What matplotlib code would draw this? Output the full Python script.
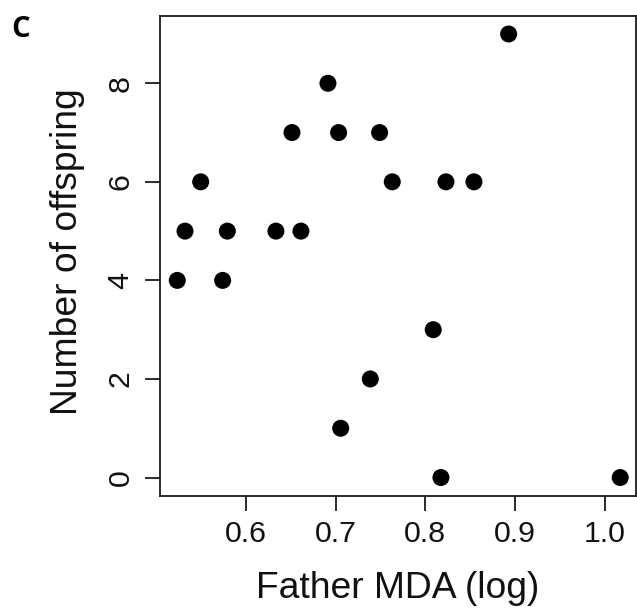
import matplotlib
matplotlib.use("Agg")
import matplotlib.pyplot as plt

# Data
father_mda_log = [0.8929, 0.6914, 0.6513, 0.7033, 0.7490, 0.5495, 0.7631, 0.8230,
                  0.8542, 0.5320, 0.5792, 0.6334, 0.6613, 0.5234, 0.5740, 0.8088,
                  0.7386, 0.7056, 0.8174, 1.0173]
n_offspring = [9, 8, 7, 7, 7, 6, 6, 6, 6, 5, 5, 5, 5, 4, 4, 3, 2, 1, 0, 0]
x_ticks = [0.6, 0.7, 0.8, 0.9, 1.0]
x_tick_labels = ["0.6", "0.7", "0.8", "0.9", "1.0"]
y_ticks = [0, 2, 4, 6, 8]
y_tick_labels = ["0", "2", "4", "6", "8"]

plt.rcParams['font.family'] = ['Liberation Sans', 'DejaVu Sans']

W, H = 637, 608
fig = plt.figure(figsize=(W / 100, H / 100), dpi=100)
left, right, top, bottom = 159.7, 636.0, 16.0, 496.0
ax = fig.add_axes([left / W, 1 - bottom / H, (right - left) / W, (bottom - top) / H])

ax.scatter(father_mda_log, n_offspring, s=150, c='black', edgecolors='none', zorder=3)

ax.set_xlim(0.5038, 1.0349)
ax.set_ylim(-0.375, 9.365)
ax.set_xticks(x_ticks)
ax.set_xticklabels(x_tick_labels)
ax.set_yticks(y_ticks)
ax.set_yticklabels(y_tick_labels, rotation=90, va='center')

for sp in ax.spines.values():
    sp.set_linewidth(1.3)
    sp.set_color('#1a1a1a')
ax.tick_params(axis='both', direction='out', length=11, width=1.3, color='#1a1a1a',
               labelsize=21.8, labelcolor='#111111')
ax.tick_params(axis='x', pad=6)
ax.tick_params(axis='y', pad=7)

fig.text(398 / W, 1 - 598 / H, 'Father MDA (log)', fontsize=26.8, color='#111111',
         ha='center', va='baseline')
fig.text(77 / W, 1 - 252 / H, 'Number of offspring', fontsize=26.8, color='#111111',
         ha='center', va='baseline', rotation=90, rotation_mode='anchor')
fig.text(11 / W, 1 - 37 / H, 'C', fontsize=21, fontweight='bold', color='black',
         ha='left', va='baseline', family=['Open Sans', 'DejaVu Sans'])

fig.savefig('out.png', dpi=100)
